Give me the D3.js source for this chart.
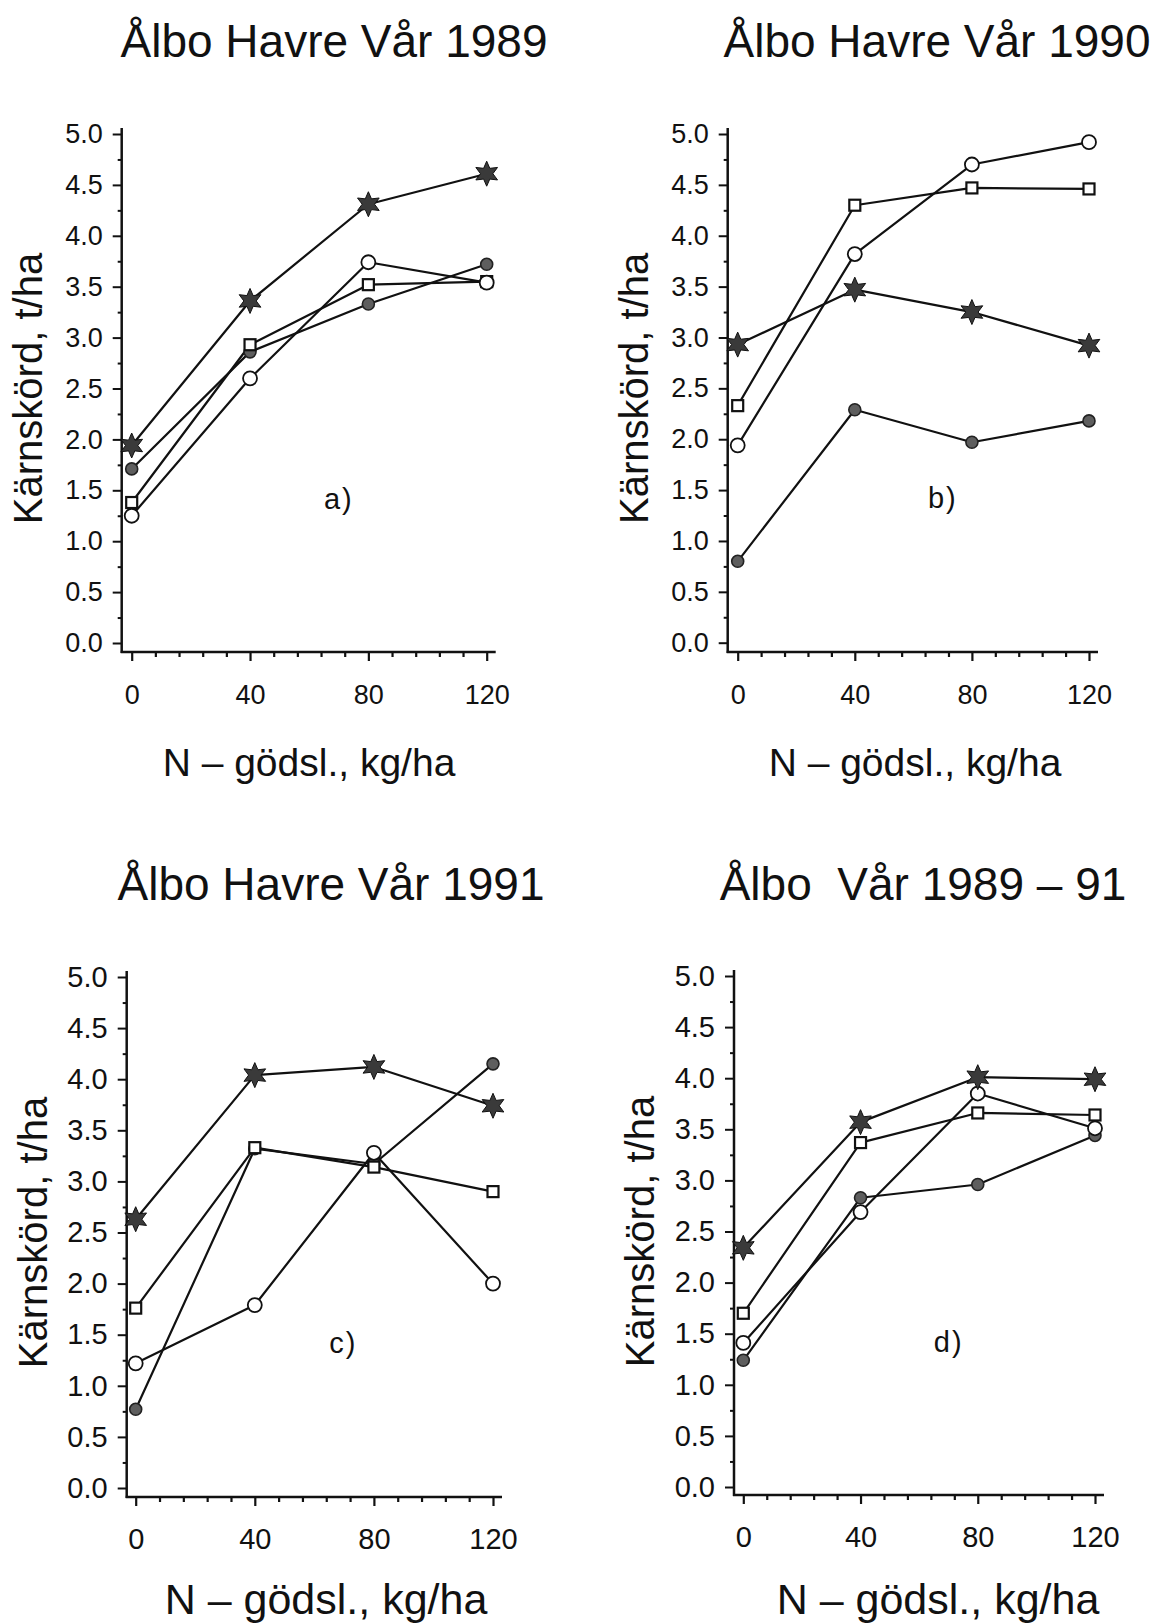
<!DOCTYPE html>
<html>
<head>
<meta charset="utf-8">
<script src="https://cdn.jsdelivr.net/npm/d3@7"></script>
<style>
  body { margin: 0; background: #fff; }
  svg text { font-family: "Liberation Sans", Arial, Helvetica, sans-serif; fill: #111; }
</style>
</head>
<body>
<svg id="fig" width="1165" height="1624"></svg>
<script>
// N fertiliser rates (kg/ha) on the x axis
const nRates = [0, 40, 80, 120];
const xTickValues = [0, 40, 80, 120];
const xMinorTicks = [8, 16, 24, 32, 48, 56, 64, 72, 88, 96, 104, 112];
const yTickValues = [0, 0.5, 1, 1.5, 2, 2.5, 3, 3.5, 4, 4.5, 5];
const yMinorTicks = [0.25, 0.75, 1.25, 1.75, 2.25, 2.75, 3.25, 3.75, 4.25, 4.75];

const panelTitles = ["Ålbo Havre Vår 1989", "Ålbo Havre Vår 1990", "Ålbo Havre Vår 1991", "Ålbo  Vår 1989 – 91"];
const panelTags = ["a)", "b)", "c)", "d)"];
const yLabel = "Kärnskörd, t/ha";
const xLabel = "N – gödsl., kg/ha";

// Grain yield (t/ha) per panel a–d, one value per N rate
const starYield = [
  [1.94, 3.36, 4.31, 4.61],
  [2.93, 3.47, 3.25, 2.92],
  [2.63, 4.04, 4.12, 3.74],
  [2.34, 3.57, 4.01, 3.99]
];
const openCircleYield = [
  [1.25, 2.60, 3.74, 3.54],
  [1.94, 3.82, 4.70, 4.92],
  [1.22, 1.79, 3.28, 2.00],
  [1.41, 2.69, 3.85, 3.51]
];
const squareYield = [
  [1.38, 2.93, 3.52, 3.55],
  [2.33, 4.30, 4.47, 4.46],
  [1.76, 3.33, 3.14, 2.90],
  [1.70, 3.37, 3.66, 3.64]
];
const dotYield = [
  [1.71, 2.86, 3.33, 3.72],
  [0.80, 2.29, 1.97, 2.18],
  [0.77, 3.32, 3.17, 4.15],
  [1.24, 2.83, 2.96, 3.44]
];

// Placement of the four panels on the page
const frames = [
  { axisX: 121.7, x0: 131.7, x1: 486.7, y0: 643,   y1: 134, axisY: 652,  titleX: 334, titleY: 57,  xTitleX: 309, xTitleY: 776,  tickFont: 27, xTitleFont: 39 },
  { axisX: 727.7, x0: 737.7, x1: 1089,  y0: 642.7, y1: 134, axisY: 652,  titleX: 937, titleY: 57,  xTitleX: 915, xTitleY: 776,  tickFont: 27, xTitleFont: 39 },
  { axisX: 126.7, x0: 135.7, x1: 493,   y0: 1488,  y1: 977, axisY: 1497, titleX: 331, titleY: 900, xTitleX: 326, xTitleY: 1614, tickFont: 29, xTitleFont: 43 },
  { axisX: 734,   x0: 743.3, x1: 1095,  y0: 1487,  y1: 976, axisY: 1495, titleX: 923, titleY: 900, xTitleX: 938, xTitleY: 1614, tickFont: 29, xTitleFont: 43 }
];

const svg = d3.select("#fig");
const ink = "#111";

// six-pointed star symbol
function hexagram(R, r) {
  const pts = [];
  for (let k = 0; k < 12; k++) {
    const a = -Math.PI / 2 + k * Math.PI / 6;
    const rad = k % 2 === 0 ? R : r;
    pts.push([rad * Math.cos(a), rad * Math.sin(a)]);
  }
  return "M" + pts.map(p => p[0].toFixed(2) + "," + p[1].toFixed(2)).join("L") + "Z";
}
const starPath = hexagram(12.5, 6.2);

frames.forEach((f, p) => {
  const g = svg.append("g");
  const x = d3.scaleLinear().domain([0, 120]).range([f.x0, f.x1]);
  const y = d3.scaleLinear().domain([0, 5]).range([f.y0, f.y1]);

  // title
  g.append("text")
    .attr("x", f.titleX).attr("y", f.titleY)
    .attr("text-anchor", "middle")
    .style("font-size", "46px")
    .style("white-space", "pre")
    .text(panelTitles[p]);

  // y axis ticks
  const yAx = g.append("g").attr("transform", `translate(${f.axisX},0)`)
    .call(d3.axisLeft(y).tickValues(yTickValues).tickSize(9).tickPadding(10).tickFormat(d3.format(".1f")));
  yAx.select(".domain").remove();
  yAx.selectAll("line").attr("stroke", ink).attr("stroke-width", 2);
  yAx.selectAll("text").style("font-size", f.tickFont + "px").attr("fill", ink);

  const yMin = g.append("g").attr("transform", `translate(${f.axisX},0)`)
    .call(d3.axisLeft(y).tickValues(yMinorTicks).tickSize(4).tickFormat(""));
  yMin.select(".domain").remove();
  yMin.selectAll("line").attr("stroke", ink).attr("stroke-width", 2);

  // x axis ticks
  const xAx = g.append("g").attr("transform", `translate(0,${f.axisY})`)
    .call(d3.axisBottom(x).tickValues(xTickValues).tickSize(9).tickFormat(d3.format("d")));
  xAx.select(".domain").remove();
  xAx.selectAll("line").attr("stroke", ink).attr("stroke-width", 2.2);
  xAx.selectAll("text").attr("y", 52).attr("dy", 0)
    .style("font-size", f.tickFont + "px").attr("fill", ink);

  const xMin = g.append("g").attr("transform", `translate(0,${f.axisY})`)
    .call(d3.axisBottom(x).tickValues(xMinorTicks).tickSize(5).tickFormat(""));
  xMin.select(".domain").remove();
  xMin.selectAll("line").attr("stroke", ink).attr("stroke-width", 2.2);

  // axis lines
  g.append("line")
    .attr("x1", f.axisX).attr("x2", f.axisX)
    .attr("y1", f.axisY + 1).attr("y2", y(5) - 6)
    .attr("stroke", ink).attr("stroke-width", 2.5);
  g.append("line")
    .attr("x1", f.axisX - 1).attr("x2", x(120) + 9)
    .attr("y1", f.axisY).attr("y2", f.axisY)
    .attr("stroke", ink).attr("stroke-width", 2.5);

  // axis titles
  g.append("text")
    .attr("transform", `translate(${f.axisX - 80},${(y(0) + y(5)) / 2}) rotate(-90)`)
    .attr("text-anchor", "middle")
    .style("font-size", "40px")
    .text(yLabel);
  g.append("text")
    .attr("x", f.xTitleX).attr("y", f.xTitleY)
    .attr("text-anchor", "middle")
    .style("font-size", f.xTitleFont + "px")
    .text(xLabel);

  // panel tag
  g.append("text")
    .attr("x", x(65)).attr("y", y(1.32))
    .style("font-size", "29px")
    .style("letter-spacing", "2px")
    .text(panelTags[p]);

  // series lines
  const line = d3.line().x((d, i) => x(nRates[i])).y(d => y(d));
  [dotYield, squareYield, openCircleYield, starYield].forEach(series => {
    g.append("path")
      .attr("d", line(series[p]))
      .attr("fill", "none")
      .attr("stroke", ink)
      .attr("stroke-width", 2.2)
      .attr("stroke-linejoin", "round");
  });

  // markers
  const pts = arr => arr[p].map((v, i) => ({ n: nRates[i], v }));

  g.selectAll(".dot").data(pts(dotYield)).join("circle")
    .attr("cx", d => x(d.n)).attr("cy", d => y(d.v)).attr("r", 6)
    .attr("fill", "#5e5e5e").attr("stroke", "#222").attr("stroke-width", 1.6);

  g.selectAll(".sq").data(pts(squareYield)).join("rect")
    .attr("x", d => x(d.n) - 5.5).attr("y", d => y(d.v) - 5.5)
    .attr("width", 11).attr("height", 11)
    .attr("fill", "#fff").attr("stroke", ink).attr("stroke-width", 2.2);

  g.selectAll(".oc").data(pts(openCircleYield)).join("circle")
    .attr("cx", d => x(d.n)).attr("cy", d => y(d.v)).attr("r", 7)
    .attr("fill", "#fff").attr("stroke", ink).attr("stroke-width", 1.8);

  g.selectAll(".st").data(pts(starYield)).join("path")
    .attr("d", starPath)
    .attr("transform", d => `translate(${x(d.n)},${y(d.v)})`)
    .attr("fill", "#3a3a3a").attr("stroke", ink).attr("stroke-width", 1);
});
</script>
</body>
</html>
